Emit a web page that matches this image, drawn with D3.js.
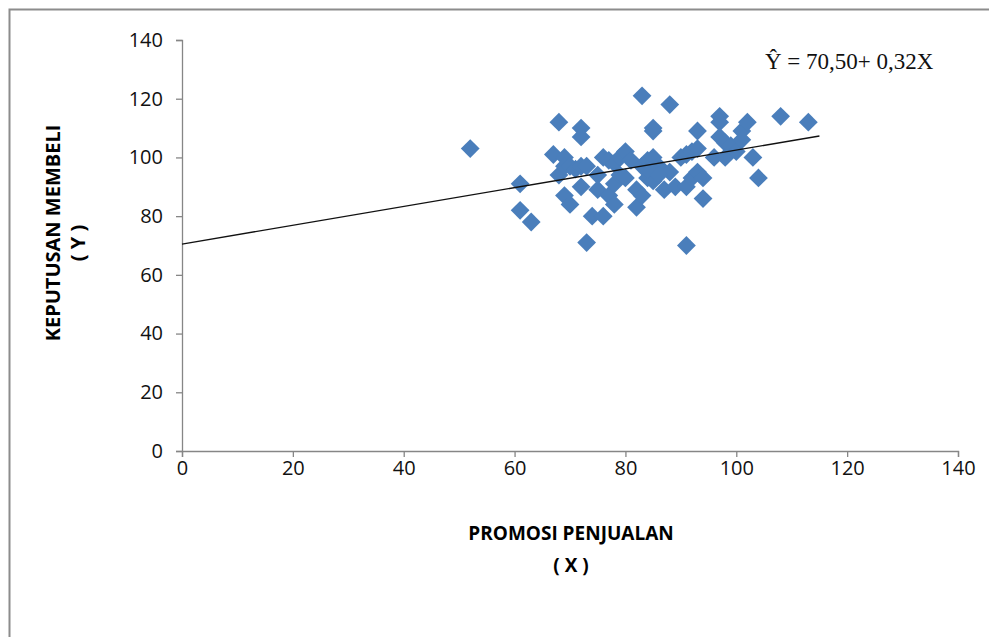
<!DOCTYPE html>
<html lang="en">
    <head>
        <meta charset="UTF-8">
        <script src="https://unpkg.com/d3@7/dist/d3.min.js"></script>
        <title>Promosi Penjualan vs Keputusan Membeli</title>
        <style>
            body { margin: 0; background: #fff; }
            svg { display: block; }
        </style>
    </head>
    <body>
        <script type="text/javascript">
            // Data: promosi penjualan (X) and keputusan membeli (Y)
            var promosiX = [52, 61, 61, 63, 67, 68, 68, 69, 69, 69, 70, 70, 71, 72, 72, 72, 72, 73, 73, 74,
                75, 75, 76, 76, 77, 77, 78, 78, 78, 79, 79, 80, 80, 81, 82, 82, 83, 83, 83, 84,
                84, 85, 85, 85, 85, 86, 87, 88, 88, 89, 90, 91, 91, 91, 92, 92, 93, 93, 93, 94,
                94, 96, 97, 97, 97, 98, 98, 99, 100, 101, 101, 102, 103, 104, 108, 113, 84, 86];
            var keputusanY = [103, 91, 82, 78, 101, 112, 94, 100, 87, 97, 84, 97, 96, 110, 107, 97, 90, 97, 71, 80,
                94, 89, 100, 80, 99, 87, 98, 91, 84, 100, 94, 102, 93, 99, 83, 89, 121, 97, 87, 99,
                93, 100, 109, 110, 92, 97, 89, 118, 95, 90, 100, 70, 101, 90, 102, 93, 109, 103, 95, 93,
                86, 100, 114, 112, 107, 105, 100, 104, 102, 109, 106, 112, 100, 93, 114, 112, 96, 94];
            var xTicks = [0, 20, 40, 60, 80, 100, 120, 140];
            var yTicks = [0, 20, 40, 60, 80, 100, 120, 140];
            // regression line Y = a + bX, drawn from X = 0 to 115
            var intercept = 70.50;
            var slope = 0.32;
            var lineRange = [0, 115];
            var equationText = "Ŷ = 70,50+ 0,32X";

            var width = 989;
            var height = 637;
            var margin = { top: 40, right: 31, bottom: 186, left: 182 };
            var plotW = width - margin.left - margin.right;
            var plotH = height - margin.top - margin.bottom;

            var svg = d3.select("body")
                .append("svg")
                .attr("width", width)
                .attr("height", height);

            // Outer frame (only top and left edges are visible)
            svg.append("path")
                .attr("d", "M9.5," + height + "V9.5H" + width)
                .attr("fill", "none")
                .attr("stroke", "#8c8c8c")
                .attr("stroke-width", 2);

            var g = svg.append("g")
                .attr("transform", "translate(" + margin.left + "," + margin.top + ")");

            var xScale = d3.scaleLinear().domain([0, 140]).range([0, plotW]);
            var yScale = d3.scaleLinear().domain([0, 140]).range([plotH, 0]);

            // Axes
            var xAxis = d3.axisBottom(xScale).tickValues(xTicks).tickSize(6).tickPadding(4);
            var yAxis = d3.axisLeft(yScale).tickValues(yTicks).tickSize(6).tickPadding(13);

            var gx = g.append("g")
                .attr("transform", "translate(0," + plotH + ")")
                .call(xAxis);
            var gy = g.append("g").call(yAxis);

            [gx, gy].forEach(function(ax) {
                ax.select(".domain").attr("stroke", "#868686").attr("stroke-width", 1.3);
                ax.selectAll(".tick line").attr("stroke", "#868686").attr("stroke-width", 1.3);
                ax.selectAll(".tick text")
                    .attr("fill", "#111")
                    .style("font-family", "'Open Sans', sans-serif")
                    .style("font-size", "20px");
            });

            // Scatter points as diamonds
            var points = promosiX.map(function(x, i) { return { x: x, y: keputusanY[i] }; });
            var diamond = d3.symbol().type(d3.symbolDiamond2).size(225);

            g.selectAll("path.pt")
                .data(points)
                .enter()
                .append("path")
                .attr("class", "pt")
                .attr("d", diamond)
                .attr("transform", function(d) {
                    return "translate(" + xScale(d.x) + "," + yScale(d.y) + ")";
                })
                .attr("fill", "#4a7ebb");

            // Regression line
            var line = d3.line()
                .x(function(d) { return xScale(d); })
                .y(function(d) { return yScale(intercept + slope * d); });

            g.append("path")
                .datum(lineRange)
                .attr("d", line)
                .attr("fill", "none")
                .attr("stroke", "#111")
                .attr("stroke-width", 1.3);

            // Equation label
            svg.append("text")
                .attr("x", 765)
                .attr("y", 69)
                .style("font-family", "'Liberation Serif', 'Times New Roman', serif")
                .style("font-size", "23px")
                .attr("fill", "#111")
                .text(equationText);

            // Axis titles
            var titleFont = "'Open Sans', sans-serif";
            svg.append("text")
                .attr("x", 571)
                .attr("y", 540)
                .attr("text-anchor", "middle")
                .style("font-family", titleFont)
                .style("font-weight", "bold")
                .style("font-size", "19px")
                .text("PROMOSI PENJUALAN");
            svg.append("text")
                .attr("x", 571)
                .attr("y", 572)
                .attr("text-anchor", "middle")
                .style("font-family", titleFont)
                .style("font-weight", "bold")
                .style("font-size", "19px")
                .text("( X )");

            svg.append("text")
                .attr("text-anchor", "middle")
                .attr("transform", "translate(60,233) rotate(-90)")
                .style("font-family", titleFont)
                .style("font-weight", "bold")
                .style("font-size", "20px")
                .text("KEPUTUSAN MEMBELI");
            svg.append("text")
                .attr("text-anchor", "middle")
                .attr("transform", "translate(85,243) rotate(-90)")
                .style("font-family", titleFont)
                .style("font-weight", "bold")
                .style("font-size", "20px")
                .text("( Y )");
        </script>
    </body>
</html>
